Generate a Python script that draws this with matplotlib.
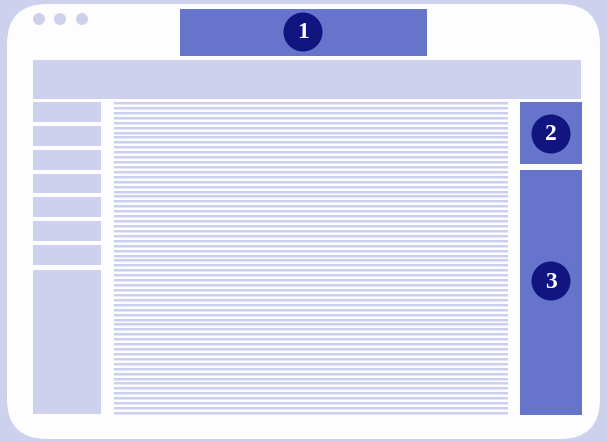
import matplotlib
matplotlib.use("Agg")
import matplotlib.pyplot as plt
from matplotlib.patches import FancyBboxPatch, Rectangle, Circle

# Layout data (pixel coordinates of the diagram)
labels = ["1", "2", "3"]
label_centers_x = [303, 551, 551]
label_centers_y = [32, 134, 281]
sidebar_item_tops = [102, 126, 150, 174, 197, 221, 245]
sidebar_item_heights = [20, 20, 20, 19, 20, 20, 20]
n_text_lines = 64
dot_centers_x = [39, 60, 82]

BG = "#CDD1EE"
WHITE = "#FDFDFE"
MID = "#6674CC"
NAVY = "#10157F"
LINE = "#CBD0EF"
LINE_SOFT = "#E4E7F7"

W, H = 607, 442
fig = plt.figure(figsize=(W / 100, H / 100), dpi=100)
fig.patch.set_facecolor(BG)
ax = fig.add_axes([0, 0, 1, 1])
ax.set_xlim(0, W)
ax.set_ylim(H, 0)
ax.axis("off")
ax.set_facecolor(BG)

# window
ax.add_patch(FancyBboxPatch((7, 4), 593, 435, boxstyle="round,pad=0,rounding_size=40",
                            facecolor=WHITE, edgecolor="none"))
# dots
for cx in dot_centers_x:
    ax.add_patch(Circle((cx, 19), 6, facecolor=BG, edgecolor="none"))

# box 1
ax.add_patch(Rectangle((180, 9), 247, 47, facecolor=MID, edgecolor="none"))
# header bar
ax.add_patch(Rectangle((33, 60), 548, 39, facecolor=BG, edgecolor="none"))
# sidebar
for t, h in zip(sidebar_item_tops, sidebar_item_heights):
    ax.add_patch(Rectangle((33, t), 68, h, facecolor=BG, edgecolor="none"))
ax.add_patch(Rectangle((33, 270), 68, 144, facecolor=BG, edgecolor="none"))

# text lines
y0, y1 = 102, 412
step = (y1 - y0) / (n_text_lines - 1)
for i in range(n_text_lines):
    y = round(y0 + i * step)
    ax.add_patch(Rectangle((114, y), 394, 2, facecolor=LINE, edgecolor="none",
                           antialiased=False))
    ax.add_patch(Rectangle((114, y + 2), 394, 1, facecolor=LINE_SOFT, edgecolor="none",
                           antialiased=False))

# right boxes
ax.add_patch(Rectangle((520, 102), 62, 62, facecolor=MID, edgecolor="none"))
ax.add_patch(Rectangle((520, 170), 62, 245, facecolor=MID, edgecolor="none"))

# numbered circles
for lab, cx, cy in zip(labels, label_centers_x, label_centers_y):
    ax.add_patch(Circle((cx, cy), 19.5, facecolor=NAVY, edgecolor="none"))
    ax.text(cx, cy + 1, lab, ha="center", va="center", color="white",
            fontsize=17, fontweight="bold", family="Liberation Serif")

fig.savefig("out.png", dpi=100, facecolor=BG)
